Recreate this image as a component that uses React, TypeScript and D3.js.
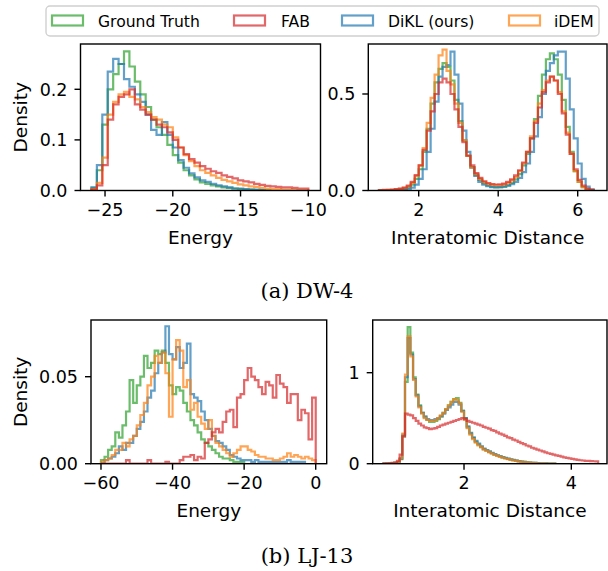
import React from "react";
import * as d3 from "d3";

const seriesNames = ["Ground Truth", "FAB", "DiKL (ours)", "iDEM"];
const seriesColors = ["#2ca02c", "#d62728", "#1f77b4", "#ff7f0e"];

// (a) DW-4, energy histograms: bins of 0.4 starting at -26
const dw4EnergyStart = -26;
const dw4EnergyWidth = 0.4;
const dw4EnergyGT = [0.005, 0.04, 0.13, 0.2, 0.23, 0.25, 0.275, 0.245, 0.215, 0.19, 0.165, 0.14, 0.125, 0.11, 0.09, 0.07, 0.055, 0.04, 0.03, 0.022, 0.016, 0.013, 0.01, 0.008, 0.006, 0.005, 0.004, 0.003, 0.002, 0.002, 0.001, 0.001, 0.001];
const dw4EnergyFAB = [0.002, 0.01, 0.05, 0.14, 0.17, 0.185, 0.19, 0.2, 0.17, 0.16, 0.15, 0.14, 0.13, 0.125, 0.115, 0.1, 0.085, 0.072, 0.062, 0.055, 0.048, 0.043, 0.038, 0.035, 0.03, 0.027, 0.024, 0.02, 0.018, 0.016, 0.013, 0.011, 0.009, 0.008, 0.007, 0.006, 0.006, 0.005, 0.004, 0.004];
const dw4EnergyDiKL = [0.006, 0.05, 0.15, 0.235, 0.26, 0.25, 0.22, 0.205, 0.19, 0.175, 0.15, 0.12, 0.11, 0.135, 0.11, 0.085, 0.06, 0.045, 0.034, 0.026, 0.02, 0.017, 0.013, 0.01, 0.008, 0.006, 0.004, 0.004, 0.003, 0.002, 0.002, 0.001];
const dw4EnergyIDEM = [0.003, 0.015, 0.065, 0.15, 0.175, 0.19, 0.195, 0.185, 0.18, 0.165, 0.155, 0.145, 0.14, 0.13, 0.125, 0.105, 0.085, 0.07, 0.058, 0.048, 0.04, 0.035, 0.03, 0.025, 0.021, 0.018, 0.015, 0.012, 0.01, 0.008, 0.007, 0.005, 0.004, 0.003, 0.003, 0.002, 0.002, 0.001, 0.001, 0.001];

// (a) DW-4, interatomic distance: bins of 0.1 starting at 1.0
const dw4DistStart = 1.0;
const dw4DistWidth = 0.1;
const dw4DistGT = [0.001, 0.001, 0.002, 0.002, 0.003, 0.005, 0.008, 0.015, 0.03, 0.06, 0.11, 0.2, 0.32, 0.45, 0.56, 0.63, 0.66, 0.64, 0.57, 0.47, 0.36, 0.26, 0.18, 0.12, 0.08, 0.055, 0.037, 0.026, 0.02, 0.017, 0.017, 0.02, 0.027, 0.04, 0.058, 0.085, 0.13, 0.19, 0.27, 0.37, 0.49, 0.6, 0.68, 0.71, 0.68, 0.6, 0.47, 0.33, 0.2, 0.1, 0.045, 0.018, 0.006, 0.002];
const dw4DistFAB = [0.002, 0.003, 0.004, 0.005, 0.007, 0.01, 0.015, 0.025, 0.045, 0.08, 0.13, 0.21, 0.31, 0.41, 0.5, 0.56, 0.58, 0.56, 0.5, 0.42, 0.33, 0.25, 0.18, 0.13, 0.09, 0.065, 0.048, 0.038, 0.033, 0.031, 0.032, 0.036, 0.045, 0.058, 0.078, 0.105, 0.145, 0.2, 0.27, 0.35, 0.43, 0.51, 0.56, 0.59, 0.57, 0.5, 0.4, 0.29, 0.19, 0.11, 0.055, 0.025, 0.01, 0.004];
const dw4DistDiKL = [0, 0, 0.001, 0.001, 0.002, 0.003, 0.005, 0.008, 0.015, 0.03, 0.06, 0.11, 0.2, 0.32, 0.46, 0.59, 0.64, 0.65, 0.72, 0.6, 0.45, 0.31, 0.2, 0.12, 0.075, 0.045, 0.03, 0.022, 0.018, 0.016, 0.017, 0.02, 0.025, 0.033, 0.045, 0.065, 0.095, 0.14, 0.2, 0.28, 0.38, 0.5, 0.62, 0.66, 0.7, 0.72, 0.72, 0.58, 0.42, 0.27, 0.14, 0.06, 0.02, 0.006];
const dw4DistIDEM = [0.001, 0.002, 0.003, 0.004, 0.006, 0.009, 0.014, 0.022, 0.04, 0.075, 0.13, 0.22, 0.35, 0.48, 0.6, 0.7, 0.73, 0.62, 0.55, 0.45, 0.35, 0.26, 0.18, 0.12, 0.085, 0.06, 0.045, 0.035, 0.03, 0.028, 0.028, 0.032, 0.04, 0.052, 0.07, 0.1, 0.14, 0.2, 0.28, 0.36, 0.45, 0.52, 0.57, 0.59, 0.57, 0.51, 0.41, 0.3, 0.19, 0.1, 0.045, 0.018, 0.006, 0.002];

// (b) LJ-13, energy: bins of 1 starting at -60
const lj13EnergyStart = -60;
const lj13EnergyWidth = 1;
const lj13EnergyGT = [0.002, 0.004, 0.008, 0.01, 0.018, 0.015, 0.022, 0.03, 0.048, 0.035, 0.045, 0.05, 0.062, 0.055, 0.058, 0.065, 0.063, 0.065, 0.058, 0.045, 0.04, 0.044, 0.042, 0.035, 0.03, 0.025, 0.022, 0.018, 0.014, 0.012, 0.01, 0.008, 0.006, 0.004, 0.003, 0.003, 0.002, 0.001, 0.001, 0.001];
const lj13EnergyFAB = [0, 0, 0, 0, 0, 0, 0, 0.002, 0, 0, 0, 0, 0, 0.002, 0, 0, 0, 0, 0.001, 0, 0, 0, 0.002, 0.004, 0.004, 0.005, 0.002, 0.004, 0.003, 0.012, 0.014, 0.018, 0.02, 0.018, 0.024, 0.03, 0.031, 0.021, 0.038, 0.04, 0.048, 0.055, 0.05, 0.048, 0.044, 0.04, 0.047, 0.045, 0.038, 0.051, 0.046, 0.044, 0.035, 0.04, 0.04, 0.025, 0.031, 0.029, 0.014, 0.038];
const lj13EnergyDiKL = [0, 0.002, 0.003, 0.004, 0.006, 0.01, 0.008, 0.012, 0.012, 0.016, 0.02, 0.024, 0.03, 0.038, 0.042, 0.052, 0.058, 0.064, 0.079, 0.063, 0.06, 0.067, 0.055, 0.058, 0.069, 0.04, 0.038, 0.036, 0.03, 0.025, 0.02, 0.016, 0.013, 0.012, 0.01, 0.008, 0.005, 0.004, 0.003, 0.002, 0.002, 0.002, 0.001, 0.002, 0.001, 0.001, 0.001, 0.001, 0.001, 0.001, 0.001, 0.001, 0.002, 0.001, 0.001, 0.001, 0.001];
const lj13EnergyIDEM = [0.001, 0.002, 0.003, 0.005, 0.008, 0.008, 0.012, 0.01, 0.014, 0.016, 0.022, 0.028, 0.035, 0.045, 0.05, 0.062, 0.058, 0.064, 0.052, 0.027, 0.06, 0.071, 0.065, 0.044, 0.048, 0.031, 0.035, 0.027, 0.023, 0.02, 0.025, 0.016, 0.012, 0.01, 0.008, 0.006, 0.004, 0.006, 0.008, 0.01, 0.01, 0.008, 0.007, 0.005, 0.004, 0.004, 0.003, 0.003, 0.002, 0.002, 0.003, 0.004, 0.006, 0.004, 0.005, 0.004, 0.003, 0.004, 0.003, 0.002];

// (b) LJ-13, interatomic distance: bins of 0.05 starting at 0.5
const lj13DistStart = 0.5;
const lj13DistWidth = 0.05;
const lj13DistGT = [0.001, 0.002, 0.003, 0.005, 0.008, 0.015, 0.05, 0.3, 0.9, 1.5, 1.22, 0.95, 0.76, 0.64, 0.56, 0.51, 0.48, 0.46, 0.46, 0.47, 0.49, 0.52, 0.56, 0.6, 0.64, 0.68, 0.71, 0.72, 0.67, 0.58, 0.5, 0.4, 0.33, 0.28, 0.24, 0.21, 0.185, 0.16, 0.145, 0.13, 0.115, 0.1, 0.09, 0.08, 0.07, 0.06, 0.053, 0.046, 0.04, 0.034, 0.028, 0.023, 0.019, 0.015, 0.012, 0.01, 0.008, 0.006, 0.005, 0.004, 0.003, 0.002, 0.001, 0.001];
const lj13DistFAB = [0.002, 0.003, 0.005, 0.008, 0.012, 0.03, 0.1, 0.3, 0.55, 0.54, 0.53, 0.5, 0.47, 0.44, 0.42, 0.4, 0.39, 0.38, 0.385, 0.39, 0.405, 0.42, 0.43, 0.44, 0.45, 0.46, 0.47, 0.48, 0.49, 0.5, 0.49, 0.47, 0.46, 0.45, 0.44, 0.43, 0.42, 0.405, 0.395, 0.385, 0.37, 0.36, 0.345, 0.33, 0.32, 0.305, 0.29, 0.28, 0.265, 0.255, 0.24, 0.225, 0.215, 0.2, 0.19, 0.175, 0.165, 0.155, 0.145, 0.135, 0.125, 0.115, 0.107, 0.1, 0.092, 0.085, 0.077, 0.07, 0.064, 0.058, 0.052, 0.047, 0.042, 0.038, 0.035, 0.032, 0.03, 0.028, 0.027, 0.026];
const lj13DistDiKL = [0.001, 0.002, 0.003, 0.005, 0.008, 0.016, 0.055, 0.32, 0.95, 1.38, 1.2, 0.93, 0.75, 0.63, 0.56, 0.52, 0.49, 0.48, 0.48, 0.49, 0.5, 0.52, 0.55, 0.59, 0.62, 0.65, 0.68, 0.68, 0.65, 0.58, 0.5, 0.41, 0.34, 0.29, 0.25, 0.22, 0.19, 0.165, 0.15, 0.135, 0.12, 0.105, 0.093, 0.082, 0.072, 0.063, 0.055, 0.048, 0.041, 0.035, 0.029, 0.024, 0.02, 0.016, 0.013, 0.01, 0.008, 0.006, 0.005, 0.004, 0.003, 0.002, 0.001, 0.001];
const lj13DistIDEM = [0.001, 0.002, 0.003, 0.005, 0.008, 0.018, 0.06, 0.33, 0.98, 1.4, 1.18, 0.92, 0.74, 0.62, 0.55, 0.5, 0.48, 0.47, 0.47, 0.48, 0.5, 0.53, 0.56, 0.6, 0.64, 0.68, 0.71, 0.7, 0.66, 0.57, 0.48, 0.39, 0.32, 0.27, 0.23, 0.2, 0.18, 0.155, 0.14, 0.125, 0.11, 0.097, 0.086, 0.076, 0.066, 0.057, 0.05, 0.043, 0.037, 0.031, 0.026, 0.021, 0.017, 0.014, 0.011, 0.009, 0.007, 0.005, 0.004, 0.003, 0.002, 0.002, 0.001, 0.001];

// axes ticks
const dw4EnergyTicks = [-25, -20, -15, -10];
const dw4EnergyTickLabels = ["−25", "−20", "−15", "−10"];
const dw4EnergyYTicks = [0, 0.1, 0.2];
const dw4EnergyYTickLabels = ["0.0", "0.1", "0.2"];
const dw4DistTicks = [2, 4, 6];
const dw4DistTickLabels = ["2", "4", "6"];
const dw4DistYTicks = [0, 0.5];
const dw4DistYTickLabels = ["0.0", "0.5"];
const lj13EnergyTicks = [-60, -40, -20, 0];
const lj13EnergyTickLabels = ["−60", "−40", "−20", "0"];
const lj13EnergyYTicks = [0, 0.05];
const lj13EnergyYTickLabels = ["0.00", "0.05"];
const lj13DistTicks = [2, 4];
const lj13DistTickLabels = ["2", "4"];
const lj13DistYTicks = [0, 1];
const lj13DistYTickLabels = ["0", "1"];

const FONT = "DejaVu Sans, sans-serif";
const TICK_FS = 17.5;
const LABEL_FS = 18.5;

type Hist = { start: number; width: number; values: number[]; color: string };

function stepPoints(h: Hist): [number, number][] {
  const pts: [number, number][] = [[h.start, 0]];
  h.values.forEach((v, i) => {
    pts.push([h.start + i * h.width, v]);
    pts.push([h.start + (i + 1) * h.width, v]);
  });
  pts.push([h.start + h.values.length * h.width, 0]);
  return pts;
}

const Panel = ({ id, box, xDomain, yDomain, xTicks, xTickLabels, yTicks, yTickLabels, xLabel, yLabel, hists }: any) => {
  const x = d3.scaleLinear().domain(xDomain).range([box.left, box.right]);
  const y = d3.scaleLinear().domain(yDomain).range([box.bottom, box.top]);
  const line = d3.line<[number, number]>().x((d) => x(d[0])).y((d) => y(d[1]));
  return (
    <g>
      <defs>
        <clipPath id={id}>
          <rect x={box.left} y={box.top} width={box.right - box.left} height={box.bottom - box.top} />
        </clipPath>
      </defs>
      <g clipPath={`url(#${id})`}>
        {hists.map((h: Hist, i: number) => (
          <path key={i} d={line(stepPoints(h)) || ""} fill="none" stroke={h.color} strokeOpacity={0.7} strokeWidth={2.2} />
        ))}
      </g>
      <rect x={box.left} y={box.top} width={box.right - box.left} height={box.bottom - box.top} fill="none" stroke="#000" strokeWidth={1.4} />
      {xTicks.map((t: number, i: number) => (
        <g key={i}>
          <line x1={x(t)} x2={x(t)} y1={box.bottom} y2={box.bottom + 6} stroke="#000" strokeWidth={1.4} />
          <text x={x(t)} y={box.bottom + 25} textAnchor="middle" fontSize={TICK_FS} fontFamily={FONT}>{xTickLabels[i]}</text>
        </g>
      ))}
      {yTicks.map((t: number, i: number) => (
        <g key={i}>
          <line x1={box.left - 6} x2={box.left} y1={y(t)} y2={y(t)} stroke="#000" strokeWidth={1.4} />
          <text x={box.left - 13} y={y(t) + 6.3} textAnchor="end" fontSize={TICK_FS} fontFamily={FONT}>{yTickLabels[i]}</text>
        </g>
      ))}
      <text x={(box.left + box.right) / 2} y={box.bottom + 53} textAnchor="middle" fontSize={LABEL_FS} fontFamily={FONT}>{xLabel}</text>
      {yLabel && (
        <text transform={`translate(27,${(box.top + box.bottom) / 2}) rotate(-90)`} textAnchor="middle" fontSize={LABEL_FS} fontFamily={FONT}>{yLabel}</text>
      )}
    </g>
  );
};

const mk = (start: number, width: number, arrs: number[][]): Hist[] => {
  // draw order: Ground Truth, DiKL, iDEM, FAB on top
  const order = [0, 2, 3, 1];
  return order.map((k) => ({ start, width, values: arrs[k], color: seriesColors[k] }));
};

const Legend = () => {
  const entries = [
    { px: 52, tx: 98 },
    { px: 234, tx: 281 },
    { px: 342, tx: 388 },
    { px: 509, tx: 554 },
  ];
  return (
    <g>
      <rect x={46} y={6} width={553} height={30} rx={4} fill="#fff" stroke="#d0d0d0" strokeWidth={1.4} />
      {entries.map((e, i) => (
        <g key={i}>
          <rect x={e.px} y={15.5} width={31} height={10} fill="none" stroke={seriesColors[i]} strokeOpacity={0.7} strokeWidth={2.2} />
          <text x={e.tx} y={26.5} fontSize={15.6} fontFamily={FONT}>{seriesNames[i]}</text>
        </g>
      ))}
    </g>
  );
};

export default function App() {
  return (
    <svg width={608} height={571} style={{ position: "absolute", left: 0, top: 0, background: "#fff" }}>
      <rect width={608} height={571} fill="#fff" />
      <Legend />
      <Panel
        id="pa"
        box={{ left: 80.5, right: 320.5, top: 44, bottom: 190.5 }}
        xDomain={[-26.81, -9.1]}
        yDomain={[0, 0.2895]}
        xTicks={dw4EnergyTicks}
        xTickLabels={dw4EnergyTickLabels}
        yTicks={dw4EnergyYTicks}
        yTickLabels={dw4EnergyYTickLabels}
        xLabel="Energy"
        yLabel="Density"
        hists={mk(dw4EnergyStart, dw4EnergyWidth, [dw4EnergyGT, dw4EnergyFAB, dw4EnergyDiKL, dw4EnergyIDEM])}
      />
      <Panel
        id="pb"
        box={{ left: 368.3, right: 607, top: 44, bottom: 190.5 }}
        xDomain={[0.732, 6.737]}
        yDomain={[0, 0.759]}
        xTicks={dw4DistTicks}
        xTickLabels={dw4DistTickLabels}
        yTicks={dw4DistYTicks}
        yTickLabels={dw4DistYTickLabels}
        xLabel="Interatomic Distance"
        hists={mk(dw4DistStart, dw4DistWidth, [dw4DistGT, dw4DistFAB, dw4DistDiKL, dw4DistIDEM])}
      />
      <Panel
        id="pc"
        box={{ left: 91, right: 326.7, top: 320, bottom: 463.7 }}
        xDomain={[-62.79, 3.07]}
        yDomain={[0, 0.0826]}
        xTicks={lj13EnergyTicks}
        xTickLabels={lj13EnergyTickLabels}
        yTicks={lj13EnergyYTicks}
        yTickLabels={lj13EnergyYTickLabels}
        xLabel="Energy"
        yLabel="Density"
        hists={mk(lj13EnergyStart, lj13EnergyWidth, [lj13EnergyGT, lj13EnergyFAB, lj13EnergyDiKL, lj13EnergyIDEM])}
      />
      <Panel
        id="pd"
        box={{ left: 372.7, right: 607, top: 320, bottom: 463.7 }}
        xDomain={[0.298, 4.665]}
        yDomain={[0, 1.579]}
        xTicks={lj13DistTicks}
        xTickLabels={lj13DistTickLabels}
        yTicks={lj13DistYTicks}
        yTickLabels={lj13DistYTickLabels}
        xLabel="Interatomic Distance"
        hists={mk(lj13DistStart, lj13DistWidth, [lj13DistGT, lj13DistFAB, lj13DistDiKL, lj13DistIDEM])}
      />
      <text x={307} y={298} textAnchor="middle" fontSize={21} fontFamily="DejaVu Serif, serif">(a) DW-4</text>
      <text x={307} y={563} textAnchor="middle" fontSize={21} fontFamily="DejaVu Serif, serif">(b) LJ-13</text>
    </svg>
  );
}
